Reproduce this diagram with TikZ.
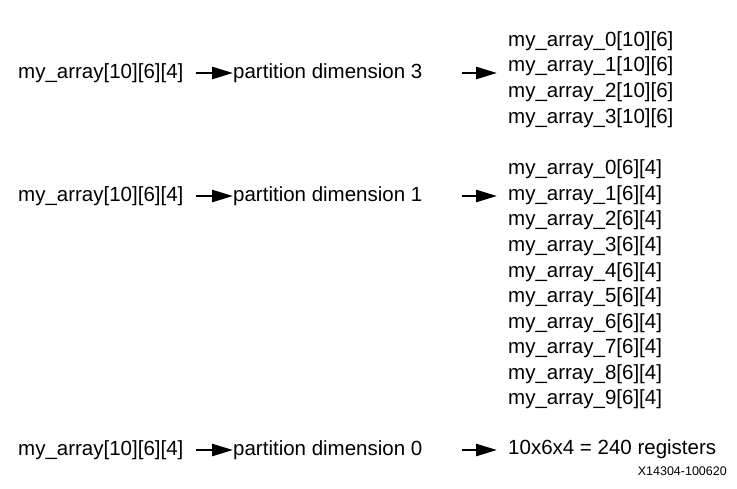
\documentclass[tikz,border=0pt]{standalone}
\usepackage{fontspec}
\setmainfont{Liberation Sans}
\usetikzlibrary{positioning,arrows.meta}

\begin{document}
\begin{tikzpicture}
    [x=1pt,y=-1pt,every node/.style={inner sep=0pt, anchor=west, font=\fontsize{20.5}{24}\selectfont},
     arr/.style={-{Triangle[length=21pt,width=12pt]}, line width=2.5pt}]
  \useasboundingbox (0,0) rectangle (737,488);
  \node (src1) at (18,73) {my\_array[10][6][4]};
  \node (src2) at (18,196) {my\_array[10][6][4]};
  \node (src3) at (18,450) {my\_array[10][6][4]};
  \node (part1) at (233,73) {partition dimension 3};
  \node (part2) at (233,196) {partition dimension 1};
  \node (part3) at (233,450) {partition dimension 0};

  \foreach \i in {0,...,3}
    \node (r1o\i) at (508,{41+25.6*\i}) {my\_array\_\i[10][6]};
  \foreach \i in {0,...,9}
    \node (r2o\i) at (508,{169.5+25.55*\i}) {my\_array\_\i[6][4]};
  \node (r3o) at (508,449) {10x6x4 = 240 registers};
  \node[anchor=east, font=\fontsize{12.5}{14}\selectfont] (figid) at (727,471) {X14304-100620};

  \foreach \r/\o in {1/r1o1, 2/r2o1, 3/r3o} {
    \draw[arr, shorten <=12pt] (src\r) -- (part\r);
    \draw[arr, shorten <=39pt, shorten >=11pt] (part\r) -- (part\r -| \o.west);
  }
\end{tikzpicture}
\end{document}
